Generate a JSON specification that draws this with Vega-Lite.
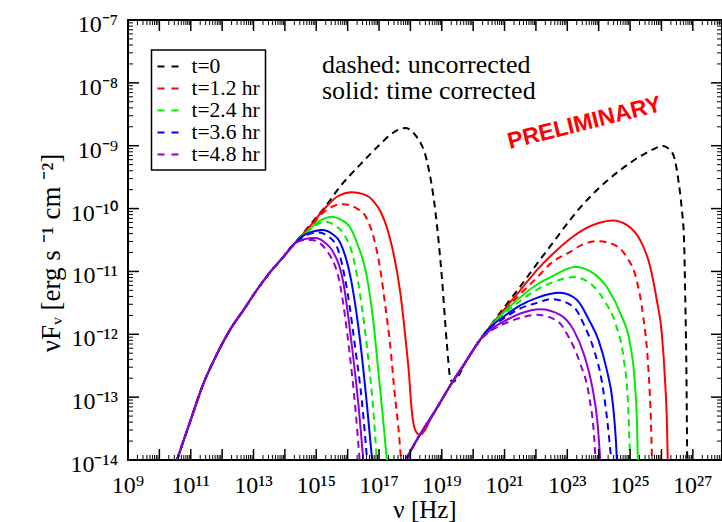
{
  "$schema": "https://vega.github.io/schema/vega-lite/v6.json",
  "width": 594,
  "height": 440,
  "autosize": {"type": "none"},
  "padding": {"left": 128, "top": 20, "right": 0, "bottom": 62},
  "background": "white",
  "config": {
    "view": {"stroke": "black", "strokeWidth": 2},
    "font": "Liberation Serif",
    "legend": {"strokeWidth": 1.5}
  },
  "datasets": {
    "xt": [
      {"v":1e9,"k":"major"},{"v":1e10,"k":"major"},{"v":1e11,"k":"major"},{"v":1e12,"k":"major"},{"v":1e13,"k":"major"},{"v":1e14,"k":"major"},{"v":1e15,"k":"major"},{"v":1e16,"k":"major"},{"v":1e17,"k":"major"},{"v":1e18,"k":"major"},{"v":1e19,"k":"major"},{"v":1e20,"k":"major"},{"v":1e21,"k":"major"},{"v":1e22,"k":"major"},{"v":1e23,"k":"major"},{"v":1e24,"k":"major"},{"v":1e25,"k":"major"},{"v":1e26,"k":"major"},{"v":1e27,"k":"major"},
      {"v":2e9,"k":"minor"},{"v":3e9,"k":"minor"},{"v":4e9,"k":"minor"},{"v":5e9,"k":"minor"},{"v":6e9,"k":"minor"},{"v":7e9,"k":"minor"},{"v":8e9,"k":"minor"},{"v":9e9,"k":"minor"},
      {"v":2e10,"k":"minor"},{"v":3e10,"k":"minor"},{"v":4e10,"k":"minor"},{"v":5e10,"k":"minor"},{"v":6e10,"k":"minor"},{"v":7e10,"k":"minor"},{"v":8e10,"k":"minor"},{"v":9e10,"k":"minor"},
      {"v":2e11,"k":"minor"},{"v":3e11,"k":"minor"},{"v":4e11,"k":"minor"},{"v":5e11,"k":"minor"},{"v":6e11,"k":"minor"},{"v":7e11,"k":"minor"},{"v":8e11,"k":"minor"},{"v":9e11,"k":"minor"},
      {"v":2e12,"k":"minor"},{"v":3e12,"k":"minor"},{"v":4e12,"k":"minor"},{"v":5e12,"k":"minor"},{"v":6e12,"k":"minor"},{"v":7e12,"k":"minor"},{"v":8e12,"k":"minor"},{"v":9e12,"k":"minor"},
      {"v":2e13,"k":"minor"},{"v":3e13,"k":"minor"},{"v":4e13,"k":"minor"},{"v":5e13,"k":"minor"},{"v":6e13,"k":"minor"},{"v":7e13,"k":"minor"},{"v":8e13,"k":"minor"},{"v":9e13,"k":"minor"},
      {"v":2e14,"k":"minor"},{"v":3e14,"k":"minor"},{"v":4e14,"k":"minor"},{"v":5e14,"k":"minor"},{"v":6e14,"k":"minor"},{"v":7e14,"k":"minor"},{"v":8e14,"k":"minor"},{"v":9e14,"k":"minor"},
      {"v":2e15,"k":"minor"},{"v":3e15,"k":"minor"},{"v":4e15,"k":"minor"},{"v":5e15,"k":"minor"},{"v":6e15,"k":"minor"},{"v":7e15,"k":"minor"},{"v":8e15,"k":"minor"},{"v":9e15,"k":"minor"},
      {"v":2e16,"k":"minor"},{"v":3e16,"k":"minor"},{"v":4e16,"k":"minor"},{"v":5e16,"k":"minor"},{"v":6e16,"k":"minor"},{"v":7e16,"k":"minor"},{"v":8e16,"k":"minor"},{"v":9e16,"k":"minor"},
      {"v":2e17,"k":"minor"},{"v":3e17,"k":"minor"},{"v":4e17,"k":"minor"},{"v":5e17,"k":"minor"},{"v":6e17,"k":"minor"},{"v":7e17,"k":"minor"},{"v":8e17,"k":"minor"},{"v":9e17,"k":"minor"},
      {"v":2e18,"k":"minor"},{"v":3e18,"k":"minor"},{"v":4e18,"k":"minor"},{"v":5e18,"k":"minor"},{"v":6e18,"k":"minor"},{"v":7e18,"k":"minor"},{"v":8e18,"k":"minor"},{"v":9e18,"k":"minor"},
      {"v":2e19,"k":"minor"},{"v":3e19,"k":"minor"},{"v":4e19,"k":"minor"},{"v":5e19,"k":"minor"},{"v":6e19,"k":"minor"},{"v":7e19,"k":"minor"},{"v":8e19,"k":"minor"},{"v":9e19,"k":"minor"},
      {"v":2e20,"k":"minor"},{"v":3e20,"k":"minor"},{"v":4e20,"k":"minor"},{"v":5e20,"k":"minor"},{"v":6e20,"k":"minor"},{"v":7e20,"k":"minor"},{"v":8e20,"k":"minor"},{"v":9e20,"k":"minor"},
      {"v":2e21,"k":"minor"},{"v":3e21,"k":"minor"},{"v":4e21,"k":"minor"},{"v":5e21,"k":"minor"},{"v":6e21,"k":"minor"},{"v":7e21,"k":"minor"},{"v":8e21,"k":"minor"},{"v":9e21,"k":"minor"},
      {"v":2e22,"k":"minor"},{"v":3e22,"k":"minor"},{"v":4e22,"k":"minor"},{"v":5e22,"k":"minor"},{"v":6e22,"k":"minor"},{"v":7e22,"k":"minor"},{"v":8e22,"k":"minor"},{"v":9e22,"k":"minor"},
      {"v":2e23,"k":"minor"},{"v":3e23,"k":"minor"},{"v":4e23,"k":"minor"},{"v":5e23,"k":"minor"},{"v":6e23,"k":"minor"},{"v":7e23,"k":"minor"},{"v":8e23,"k":"minor"},{"v":9e23,"k":"minor"},
      {"v":2e24,"k":"minor"},{"v":3e24,"k":"minor"},{"v":4e24,"k":"minor"},{"v":5e24,"k":"minor"},{"v":6e24,"k":"minor"},{"v":7e24,"k":"minor"},{"v":8e24,"k":"minor"},{"v":9e24,"k":"minor"},
      {"v":2e25,"k":"minor"},{"v":3e25,"k":"minor"},{"v":4e25,"k":"minor"},{"v":5e25,"k":"minor"},{"v":6e25,"k":"minor"},{"v":7e25,"k":"minor"},{"v":8e25,"k":"minor"},{"v":9e25,"k":"minor"},
      {"v":2e26,"k":"minor"},{"v":3e26,"k":"minor"},{"v":4e26,"k":"minor"},{"v":5e26,"k":"minor"},{"v":6e26,"k":"minor"},{"v":7e26,"k":"minor"},{"v":8e26,"k":"minor"},{"v":9e26,"k":"minor"},
      {"v":2e27,"k":"minor"},{"v":3e27,"k":"minor"},{"v":4e27,"k":"minor"},{"v":5e27,"k":"minor"},{"v":6e27,"k":"minor"},{"v":7e27,"k":"minor"},{"v":8e27,"k":"minor"}
    ],
    "yt": [
      {"v":1e-14,"k":"major"},{"v":1e-13,"k":"major"},{"v":1e-12,"k":"major"},{"v":1e-11,"k":"major"},{"v":1e-10,"k":"major"},{"v":1e-9,"k":"major"},{"v":1e-8,"k":"major"},{"v":1e-7,"k":"major"},
      {"v":2e-14,"k":"minor"},{"v":3e-14,"k":"minor"},{"v":4e-14,"k":"minor"},{"v":5e-14,"k":"minor"},{"v":6e-14,"k":"minor"},{"v":7e-14,"k":"minor"},{"v":8e-14,"k":"minor"},{"v":9e-14,"k":"minor"},
      {"v":2e-13,"k":"minor"},{"v":3e-13,"k":"minor"},{"v":4e-13,"k":"minor"},{"v":5e-13,"k":"minor"},{"v":6e-13,"k":"minor"},{"v":7e-13,"k":"minor"},{"v":8e-13,"k":"minor"},{"v":9e-13,"k":"minor"},
      {"v":2e-12,"k":"minor"},{"v":3e-12,"k":"minor"},{"v":4e-12,"k":"minor"},{"v":5e-12,"k":"minor"},{"v":6e-12,"k":"minor"},{"v":7e-12,"k":"minor"},{"v":8e-12,"k":"minor"},{"v":9e-12,"k":"minor"},
      {"v":2e-11,"k":"minor"},{"v":3e-11,"k":"minor"},{"v":4e-11,"k":"minor"},{"v":5e-11,"k":"minor"},{"v":6e-11,"k":"minor"},{"v":7e-11,"k":"minor"},{"v":8e-11,"k":"minor"},{"v":9e-11,"k":"minor"},
      {"v":2e-10,"k":"minor"},{"v":3e-10,"k":"minor"},{"v":4e-10,"k":"minor"},{"v":5e-10,"k":"minor"},{"v":6e-10,"k":"minor"},{"v":7e-10,"k":"minor"},{"v":8e-10,"k":"minor"},{"v":9e-10,"k":"minor"},
      {"v":2e-9,"k":"minor"},{"v":3e-9,"k":"minor"},{"v":4e-9,"k":"minor"},{"v":5e-9,"k":"minor"},{"v":6e-9,"k":"minor"},{"v":7e-9,"k":"minor"},{"v":8e-9,"k":"minor"},{"v":9e-9,"k":"minor"},
      {"v":2e-8,"k":"minor"},{"v":3e-8,"k":"minor"},{"v":4e-8,"k":"minor"},{"v":5e-8,"k":"minor"},{"v":6e-8,"k":"minor"},{"v":7e-8,"k":"minor"},{"v":8e-8,"k":"minor"},{"v":9e-8,"k":"minor"}
    ],
    "xl": [
      {"v":1e9,"lab":"10⁹"},{"v":1e11,"lab":"10¹¹"},{"v":1e13,"lab":"10¹³"},{"v":1e15,"lab":"10¹⁵"},{"v":1e17,"lab":"10¹⁷"},{"v":1e19,"lab":"10¹⁹"},{"v":1e21,"lab":"10²¹"},{"v":1e23,"lab":"10²³"},{"v":1e25,"lab":"10²⁵"},{"v":1e27,"lab":"10²⁷"}
    ],
    "yl": [
      {"v":1e-14,"lab":"10⁻¹⁴"},{"v":1e-13,"lab":"10⁻¹³"},{"v":1e-12,"lab":"10⁻¹²"},{"v":1e-11,"lab":"10⁻¹¹"},{"v":1e-10,"lab":"10⁻¹⁰"},{"v":1e-9,"lab":"10⁻⁹"},{"v":1e-8,"lab":"10⁻⁸"},{"v":1e-7,"lab":"10⁻⁷"}
    ],
    "xtitle": [{"nu": 2.917e18, "F": 1e-14, "lab": "ν [Hz]"}],
    "ytitle": [{"nu": 1e9, "F": 1.963e-11, "lab": "νFᵥ  [erg s  ⁻¹  cm  ⁻²]"}],
    "curves": [
      {"t":"t=0","s":"dashed","p":1,"nu":3.631e10,"F":1e-14},
      {"t":"t=0","s":"dashed","p":1,"nu":6.31e10,"F":2.239e-14},
      {"t":"t=0","s":"dashed","p":1,"nu":1e11,"F":4.365e-14},
      {"t":"t=0","s":"dashed","p":1,"nu":2.512e11,"F":1.622e-13},
      {"t":"t=0","s":"dashed","p":1,"nu":6.31e11,"F":4.467e-13},
      {"t":"t=0","s":"dashed","p":1,"nu":1.778e12,"F":1.175e-12},
      {"t":"t=0","s":"dashed","p":1,"nu":5.012e12,"F":2.512e-12},
      {"t":"t=0","s":"dashed","p":1,"nu":1.259e13,"F":5.012e-12},
      {"t":"t=0","s":"dashed","p":1,"nu":3.162e13,"F":9.333e-12},
      {"t":"t=0","s":"dashed","p":1,"nu":8.913e13,"F":1.698e-11},
      {"t":"t=0","s":"dashed","p":1,"nu":1.995e14,"F":2.754e-11},
      {"t":"t=0","s":"dashed","p":1,"nu":6.31e14,"F":5.495e-11},
      {"t":"t=0","s":"dashed","p":1,"nu":1.995e15,"F":1.096e-10},
      {"t":"t=0","s":"dashed","p":1,"nu":5.754e15,"F":2.239e-10},
      {"t":"t=0","s":"dashed","p":1,"nu":2.512e16,"F":5.012e-10},
      {"t":"t=0","s":"dashed","p":1,"nu":1.072e17,"F":1.047e-9},
      {"t":"t=0","s":"dashed","p":1,"nu":2.884e17,"F":1.622e-9},
      {"t":"t=0","s":"dashed","p":1,"nu":6.761e17,"F":1.905e-9},
      {"t":"t=0","s":"dashed","p":1,"nu":1.585e18,"F":1.38e-9},
      {"t":"t=0","s":"dashed","p":1,"nu":3.311e18,"F":5.888e-10},
      {"t":"t=0","s":"dashed","p":1,"nu":6.166e18,"F":9.55e-11},
      {"t":"t=0","s":"dashed","p":1,"nu":1e19,"F":8.318e-12},
      {"t":"t=0","s":"dashed","p":1,"nu":1.445e19,"F":7.244e-13},
      {"t":"t=0","s":"dashed","p":1,"nu":1.862e19,"F":1.995e-13},
      {"t":"t=0","s":"dashed","p":1,"nu":2.188e19,"F":1.738e-13},
      {"t":"t=0","s":"dashed","p":1,"nu":6.31e19,"F":3.89e-13},
      {"t":"t=0","s":"dashed","p":1,"nu":1e20,"F":5.623e-13},
      {"t":"t=0","s":"dashed","p":1,"nu":3.162e20,"F":1.259e-12},
      {"t":"t=0","s":"dashed","p":1,"nu":9.12e20,"F":2.57e-12},
      {"t":"t=0","s":"dashed","p":1,"nu":3.162e21,"F":5.754e-12},
      {"t":"t=0","s":"dashed","p":1,"nu":1.072e22,"F":1.318e-11},
      {"t":"t=0","s":"dashed","p":1,"nu":3.162e22,"F":2.692e-11},
      {"t":"t=0","s":"dashed","p":1,"nu":1.23e23,"F":6.607e-11},
      {"t":"t=0","s":"dashed","p":1,"nu":2.512e23,"F":1.023e-10},
      {"t":"t=0","s":"dashed","p":1,"nu":1.096e24,"F":2.188e-10},
      {"t":"t=0","s":"dashed","p":1,"nu":4.786e24,"F":4.074e-10},
      {"t":"t=0","s":"dashed","p":1,"nu":2.089e25,"F":6.761e-10},
      {"t":"t=0","s":"dashed","p":1,"nu":7.079e25,"F":9.333e-10},
      {"t":"t=0","s":"dashed","p":1,"nu":1e26,"F":1e-9},
      {"t":"t=0","s":"dashed","p":1,"nu":1.905e26,"F":8.511e-10},
      {"t":"t=0","s":"dashed","p":1,"nu":2.692e26,"F":5.888e-10},
      {"t":"t=0","s":"dashed","p":1,"nu":3.467e26,"F":2.818e-10},
      {"t":"t=0","s":"dashed","p":1,"nu":4.365e26,"F":1.072e-10},
      {"t":"t=0","s":"dashed","p":1,"nu":5.248e26,"F":3.162e-11},
      {"t":"t=0","s":"dashed","p":1,"nu":5.754e26,"F":3.548e-12},
      {"t":"t=0","s":"dashed","p":1,"nu":6.31e26,"F":1.66e-13},
      {"t":"t=0","s":"dashed","p":1,"nu":6.607e26,"F":1e-14},

      {"t":"t=1.2 hr","s":"dashed","p":1,"nu":3.631e10,"F":1e-14},
      {"t":"t=1.2 hr","s":"dashed","p":1,"nu":6.31e10,"F":2.239e-14},
      {"t":"t=1.2 hr","s":"dashed","p":1,"nu":1e11,"F":4.365e-14},
      {"t":"t=1.2 hr","s":"dashed","p":1,"nu":2.512e11,"F":1.622e-13},
      {"t":"t=1.2 hr","s":"dashed","p":1,"nu":6.31e11,"F":4.467e-13},
      {"t":"t=1.2 hr","s":"dashed","p":1,"nu":1.778e12,"F":1.175e-12},
      {"t":"t=1.2 hr","s":"dashed","p":1,"nu":5.012e12,"F":2.512e-12},
      {"t":"t=1.2 hr","s":"dashed","p":1,"nu":1.259e13,"F":5.012e-12},
      {"t":"t=1.2 hr","s":"dashed","p":1,"nu":3.162e13,"F":9.333e-12},
      {"t":"t=1.2 hr","s":"dashed","p":1,"nu":8.913e13,"F":1.698e-11},
      {"t":"t=1.2 hr","s":"dashed","p":1,"nu":1.995e14,"F":2.754e-11},
      {"t":"t=1.2 hr","s":"dashed","p":1,"nu":6.31e14,"F":5.012e-11},
      {"t":"t=1.2 hr","s":"dashed","p":1,"nu":1.995e15,"F":9.333e-11},
      {"t":"t=1.2 hr","s":"dashed","p":1,"nu":3.981e15,"F":1.122e-10},
      {"t":"t=1.2 hr","s":"dashed","p":1,"nu":7.079e15,"F":1.175e-10},
      {"t":"t=1.2 hr","s":"dashed","p":1,"nu":1.995e16,"F":1e-10},
      {"t":"t=1.2 hr","s":"dashed","p":1,"nu":3.981e16,"F":7.079e-11},
      {"t":"t=1.2 hr","s":"dashed","p":1,"nu":7.079e16,"F":3.162e-11},
      {"t":"t=1.2 hr","s":"dashed","p":1,"nu":1.122e17,"F":1e-11},
      {"t":"t=1.2 hr","s":"dashed","p":1,"nu":1.585e17,"F":2.818e-12},
      {"t":"t=1.2 hr","s":"dashed","p":1,"nu":2.239e17,"F":7.079e-13},
      {"t":"t=1.2 hr","s":"dashed","p":1,"nu":3.162e17,"F":1.122e-13},
      {"t":"t=1.2 hr","s":"dashed","p":1,"nu":4.169e17,"F":3.162e-14},
      {"t":"t=1.2 hr","s":"dashed","p":1,"nu":5.012e17,"F":1e-14},
      {"t":"t=1.2 hr","s":"dashed","p":2,"nu":7.079e17,"F":1e-14},
      {"t":"t=1.2 hr","s":"dashed","p":2,"nu":1.995e18,"F":2.512e-14},
      {"t":"t=1.2 hr","s":"dashed","p":2,"nu":5.623e18,"F":5.623e-14},
      {"t":"t=1.2 hr","s":"dashed","p":2,"nu":2.188e19,"F":1.738e-13},
      {"t":"t=1.2 hr","s":"dashed","p":2,"nu":6.31e19,"F":3.89e-13},
      {"t":"t=1.2 hr","s":"dashed","p":2,"nu":1e20,"F":5.623e-13},
      {"t":"t=1.2 hr","s":"dashed","p":2,"nu":3.162e20,"F":1.259e-12},
      {"t":"t=1.2 hr","s":"dashed","p":2,"nu":1e21,"F":2.399e-12},
      {"t":"t=1.2 hr","s":"dashed","p":2,"nu":3.162e21,"F":4.365e-12},
      {"t":"t=1.2 hr","s":"dashed","p":2,"nu":1.072e22,"F":7.943e-12},
      {"t":"t=1.2 hr","s":"dashed","p":2,"nu":3.162e22,"F":1.38e-11},
      {"t":"t=1.2 hr","s":"dashed","p":2,"nu":1.23e23,"F":2.042e-11},
      {"t":"t=1.2 hr","s":"dashed","p":2,"nu":3.162e23,"F":2.692e-11},
      {"t":"t=1.2 hr","s":"dashed","p":2,"nu":8.511e23,"F":3.02e-11},
      {"t":"t=1.2 hr","s":"dashed","p":2,"nu":2.291e24,"F":2.818e-11},
      {"t":"t=1.2 hr","s":"dashed","p":2,"nu":7.762e24,"F":1.698e-11},
      {"t":"t=1.2 hr","s":"dashed","p":2,"nu":1.622e25,"F":7.244e-12},
      {"t":"t=1.2 hr","s":"dashed","p":2,"nu":2.63e25,"F":1.905e-12},
      {"t":"t=1.2 hr","s":"dashed","p":2,"nu":3.802e25,"F":3.02e-13},
      {"t":"t=1.2 hr","s":"dashed","p":2,"nu":4.571e25,"F":4.898e-14},
      {"t":"t=1.2 hr","s":"dashed","p":2,"nu":5.012e25,"F":1e-14},

      {"t":"t=2.4 hr","s":"dashed","p":1,"nu":3.631e10,"F":1e-14},
      {"t":"t=2.4 hr","s":"dashed","p":1,"nu":6.31e10,"F":2.239e-14},
      {"t":"t=2.4 hr","s":"dashed","p":1,"nu":1e11,"F":4.365e-14},
      {"t":"t=2.4 hr","s":"dashed","p":1,"nu":2.512e11,"F":1.622e-13},
      {"t":"t=2.4 hr","s":"dashed","p":1,"nu":6.31e11,"F":4.467e-13},
      {"t":"t=2.4 hr","s":"dashed","p":1,"nu":1.778e12,"F":1.175e-12},
      {"t":"t=2.4 hr","s":"dashed","p":1,"nu":5.012e12,"F":2.512e-12},
      {"t":"t=2.4 hr","s":"dashed","p":1,"nu":1.259e13,"F":5.012e-12},
      {"t":"t=2.4 hr","s":"dashed","p":1,"nu":3.162e13,"F":9.333e-12},
      {"t":"t=2.4 hr","s":"dashed","p":1,"nu":8.913e13,"F":1.698e-11},
      {"t":"t=2.4 hr","s":"dashed","p":1,"nu":1.995e14,"F":2.754e-11},
      {"t":"t=2.4 hr","s":"dashed","p":1,"nu":5.012e14,"F":4.169e-11},
      {"t":"t=2.4 hr","s":"dashed","p":1,"nu":1e15,"F":5.495e-11},
      {"t":"t=2.4 hr","s":"dashed","p":1,"nu":1.995e15,"F":6.166e-11},
      {"t":"t=2.4 hr","s":"dashed","p":1,"nu":3.981e15,"F":5.37e-11},
      {"t":"t=2.4 hr","s":"dashed","p":1,"nu":7.413e15,"F":3.981e-11},
      {"t":"t=2.4 hr","s":"dashed","p":1,"nu":1.549e16,"F":1.585e-11},
      {"t":"t=2.4 hr","s":"dashed","p":1,"nu":2.818e16,"F":2.818e-12},
      {"t":"t=2.4 hr","s":"dashed","p":1,"nu":4.571e16,"F":3.981e-13},
      {"t":"t=2.4 hr","s":"dashed","p":1,"nu":6.31e16,"F":7.943e-14},
      {"t":"t=2.4 hr","s":"dashed","p":1,"nu":8.511e16,"F":1e-14},
      {"t":"t=2.4 hr","s":"dashed","p":2,"nu":7.079e17,"F":1e-14},
      {"t":"t=2.4 hr","s":"dashed","p":2,"nu":1.995e18,"F":2.512e-14},
      {"t":"t=2.4 hr","s":"dashed","p":2,"nu":5.623e18,"F":5.623e-14},
      {"t":"t=2.4 hr","s":"dashed","p":2,"nu":2.188e19,"F":1.738e-13},
      {"t":"t=2.4 hr","s":"dashed","p":2,"nu":6.31e19,"F":3.89e-13},
      {"t":"t=2.4 hr","s":"dashed","p":2,"nu":1e20,"F":5.623e-13},
      {"t":"t=2.4 hr","s":"dashed","p":2,"nu":3.162e20,"F":1.259e-12},
      {"t":"t=2.4 hr","s":"dashed","p":2,"nu":1e21,"F":2.138e-12},
      {"t":"t=2.4 hr","s":"dashed","p":2,"nu":3.162e21,"F":3.388e-12},
      {"t":"t=2.4 hr","s":"dashed","p":2,"nu":1e22,"F":5.012e-12},
      {"t":"t=2.4 hr","s":"dashed","p":2,"nu":3.548e22,"F":6.761e-12},
      {"t":"t=2.4 hr","s":"dashed","p":2,"nu":1.549e23,"F":8.128e-12},
      {"t":"t=2.4 hr","s":"dashed","p":2,"nu":6.31e23,"F":6.026e-12},
      {"t":"t=2.4 hr","s":"dashed","p":2,"nu":1.585e24,"F":3.311e-12},
      {"t":"t=2.4 hr","s":"dashed","p":2,"nu":3.548e24,"F":1.413e-12},
      {"t":"t=2.4 hr","s":"dashed","p":2,"nu":6.31e24,"F":3.981e-13},
      {"t":"t=2.4 hr","s":"dashed","p":2,"nu":8.511e24,"F":8.913e-14},
      {"t":"t=2.4 hr","s":"dashed","p":2,"nu":1e25,"F":1e-14},

      {"t":"t=3.6 hr","s":"dashed","p":1,"nu":3.631e10,"F":1e-14},
      {"t":"t=3.6 hr","s":"dashed","p":1,"nu":6.31e10,"F":2.239e-14},
      {"t":"t=3.6 hr","s":"dashed","p":1,"nu":1e11,"F":4.365e-14},
      {"t":"t=3.6 hr","s":"dashed","p":1,"nu":2.512e11,"F":1.622e-13},
      {"t":"t=3.6 hr","s":"dashed","p":1,"nu":6.31e11,"F":4.467e-13},
      {"t":"t=3.6 hr","s":"dashed","p":1,"nu":1.778e12,"F":1.175e-12},
      {"t":"t=3.6 hr","s":"dashed","p":1,"nu":5.012e12,"F":2.512e-12},
      {"t":"t=3.6 hr","s":"dashed","p":1,"nu":1.259e13,"F":5.012e-12},
      {"t":"t=3.6 hr","s":"dashed","p":1,"nu":3.162e13,"F":9.333e-12},
      {"t":"t=3.6 hr","s":"dashed","p":1,"nu":8.913e13,"F":1.698e-11},
      {"t":"t=3.6 hr","s":"dashed","p":1,"nu":1.995e14,"F":2.754e-11},
      {"t":"t=3.6 hr","s":"dashed","p":1,"nu":5.012e14,"F":3.802e-11},
      {"t":"t=3.6 hr","s":"dashed","p":1,"nu":1.175e15,"F":4.169e-11},
      {"t":"t=3.6 hr","s":"dashed","p":1,"nu":2.512e15,"F":3.548e-11},
      {"t":"t=3.6 hr","s":"dashed","p":1,"nu":4.571e15,"F":2.455e-11},
      {"t":"t=3.6 hr","s":"dashed","p":1,"nu":1e16,"F":4.467e-12},
      {"t":"t=3.6 hr","s":"dashed","p":1,"nu":1.778e16,"F":5.623e-13},
      {"t":"t=3.6 hr","s":"dashed","p":1,"nu":2.818e16,"F":8.913e-14},
      {"t":"t=3.6 hr","s":"dashed","p":1,"nu":4.169e16,"F":1e-14},
      {"t":"t=3.6 hr","s":"dashed","p":2,"nu":7.079e17,"F":1e-14},
      {"t":"t=3.6 hr","s":"dashed","p":2,"nu":1.995e18,"F":2.512e-14},
      {"t":"t=3.6 hr","s":"dashed","p":2,"nu":5.623e18,"F":5.623e-14},
      {"t":"t=3.6 hr","s":"dashed","p":2,"nu":2.188e19,"F":1.738e-13},
      {"t":"t=3.6 hr","s":"dashed","p":2,"nu":6.31e19,"F":3.89e-13},
      {"t":"t=3.6 hr","s":"dashed","p":2,"nu":1e20,"F":5.623e-13},
      {"t":"t=3.6 hr","s":"dashed","p":2,"nu":3.162e20,"F":1.202e-12},
      {"t":"t=3.6 hr","s":"dashed","p":2,"nu":1e21,"F":1.82e-12},
      {"t":"t=3.6 hr","s":"dashed","p":2,"nu":3.162e21,"F":2.57e-12},
      {"t":"t=3.6 hr","s":"dashed","p":2,"nu":1.072e22,"F":3.162e-12},
      {"t":"t=3.6 hr","s":"dashed","p":2,"nu":3.162e22,"F":3.631e-12},
      {"t":"t=3.6 hr","s":"dashed","p":2,"nu":1.549e23,"F":2.754e-12},
      {"t":"t=3.6 hr","s":"dashed","p":2,"nu":3.631e23,"F":1.318e-12},
      {"t":"t=3.6 hr","s":"dashed","p":2,"nu":7.079e23,"F":5.623e-13},
      {"t":"t=3.6 hr","s":"dashed","p":2,"nu":1.259e24,"F":1.778e-13},
      {"t":"t=3.6 hr","s":"dashed","p":2,"nu":1.905e24,"F":3.981e-14},
      {"t":"t=3.6 hr","s":"dashed","p":2,"nu":2.512e24,"F":1e-14},

      {"t":"t=4.8 hr","s":"dashed","p":1,"nu":3.631e10,"F":1e-14},
      {"t":"t=4.8 hr","s":"dashed","p":1,"nu":6.31e10,"F":2.239e-14},
      {"t":"t=4.8 hr","s":"dashed","p":1,"nu":1e11,"F":4.365e-14},
      {"t":"t=4.8 hr","s":"dashed","p":1,"nu":2.512e11,"F":1.622e-13},
      {"t":"t=4.8 hr","s":"dashed","p":1,"nu":6.31e11,"F":4.467e-13},
      {"t":"t=4.8 hr","s":"dashed","p":1,"nu":1.778e12,"F":1.175e-12},
      {"t":"t=4.8 hr","s":"dashed","p":1,"nu":5.012e12,"F":2.512e-12},
      {"t":"t=4.8 hr","s":"dashed","p":1,"nu":1.259e13,"F":5.012e-12},
      {"t":"t=4.8 hr","s":"dashed","p":1,"nu":3.162e13,"F":9.333e-12},
      {"t":"t=4.8 hr","s":"dashed","p":1,"nu":8.913e13,"F":1.698e-11},
      {"t":"t=4.8 hr","s":"dashed","p":1,"nu":1.995e14,"F":2.754e-11},
      {"t":"t=4.8 hr","s":"dashed","p":1,"nu":3.981e14,"F":3.162e-11},
      {"t":"t=4.8 hr","s":"dashed","p":1,"nu":7.079e14,"F":3.162e-11},
      {"t":"t=4.8 hr","s":"dashed","p":1,"nu":2.455e15,"F":1.95e-11},
      {"t":"t=4.8 hr","s":"dashed","p":1,"nu":6.026e15,"F":5.37e-12},
      {"t":"t=4.8 hr","s":"dashed","p":1,"nu":1.122e16,"F":5.623e-13},
      {"t":"t=4.8 hr","s":"dashed","p":1,"nu":1.778e16,"F":6.31e-14},
      {"t":"t=4.8 hr","s":"dashed","p":1,"nu":2.399e16,"F":1e-14},
      {"t":"t=4.8 hr","s":"dashed","p":2,"nu":7.079e17,"F":1e-14},
      {"t":"t=4.8 hr","s":"dashed","p":2,"nu":1.995e18,"F":2.512e-14},
      {"t":"t=4.8 hr","s":"dashed","p":2,"nu":5.623e18,"F":5.623e-14},
      {"t":"t=4.8 hr","s":"dashed","p":2,"nu":2.188e19,"F":1.738e-13},
      {"t":"t=4.8 hr","s":"dashed","p":2,"nu":6.31e19,"F":3.89e-13},
      {"t":"t=4.8 hr","s":"dashed","p":2,"nu":1e20,"F":5.623e-13},
      {"t":"t=4.8 hr","s":"dashed","p":2,"nu":1.778e20,"F":8.318e-13},
      {"t":"t=4.8 hr","s":"dashed","p":2,"nu":3.162e20,"F":1.072e-12},
      {"t":"t=4.8 hr","s":"dashed","p":2,"nu":5.623e20,"F":1.288e-12},
      {"t":"t=4.8 hr","s":"dashed","p":2,"nu":1e21,"F":1.479e-12},
      {"t":"t=4.8 hr","s":"dashed","p":2,"nu":3.162e21,"F":1.82e-12},
      {"t":"t=4.8 hr","s":"dashed","p":2,"nu":1.072e22,"F":2.042e-12},
      {"t":"t=4.8 hr","s":"dashed","p":2,"nu":4.571e22,"F":1.66e-12},
      {"t":"t=4.8 hr","s":"dashed","p":2,"nu":1.122e23,"F":8.913e-13},
      {"t":"t=4.8 hr","s":"dashed","p":2,"nu":2.512e23,"F":3.548e-13},
      {"t":"t=4.8 hr","s":"dashed","p":2,"nu":5.012e23,"F":1e-13},
      {"t":"t=4.8 hr","s":"dashed","p":2,"nu":7.079e23,"F":2.512e-14},
      {"t":"t=4.8 hr","s":"dashed","p":2,"nu":7.943e23,"F":1e-14},

      {"t":"t=1.2 hr","s":"solid","p":1,"nu":3.631e10,"F":1e-14},
      {"t":"t=1.2 hr","s":"solid","p":1,"nu":6.31e10,"F":2.239e-14},
      {"t":"t=1.2 hr","s":"solid","p":1,"nu":1e11,"F":4.365e-14},
      {"t":"t=1.2 hr","s":"solid","p":1,"nu":2.512e11,"F":1.622e-13},
      {"t":"t=1.2 hr","s":"solid","p":1,"nu":6.31e11,"F":4.467e-13},
      {"t":"t=1.2 hr","s":"solid","p":1,"nu":1.778e12,"F":1.175e-12},
      {"t":"t=1.2 hr","s":"solid","p":1,"nu":5.012e12,"F":2.512e-12},
      {"t":"t=1.2 hr","s":"solid","p":1,"nu":1.259e13,"F":5.012e-12},
      {"t":"t=1.2 hr","s":"solid","p":1,"nu":3.162e13,"F":9.333e-12},
      {"t":"t=1.2 hr","s":"solid","p":1,"nu":8.913e13,"F":1.698e-11},
      {"t":"t=1.2 hr","s":"solid","p":1,"nu":1.995e14,"F":2.754e-11},
      {"t":"t=1.2 hr","s":"solid","p":1,"nu":6.31e14,"F":5.248e-11},
      {"t":"t=1.2 hr","s":"solid","p":1,"nu":1.995e15,"F":1.047e-10},
      {"t":"t=1.2 hr","s":"solid","p":1,"nu":5.012e15,"F":1.585e-10},
      {"t":"t=1.2 hr","s":"solid","p":1,"nu":1.349e16,"F":1.82e-10},
      {"t":"t=1.2 hr","s":"solid","p":1,"nu":3.162e16,"F":1.698e-10},
      {"t":"t=1.2 hr","s":"solid","p":1,"nu":6.607e16,"F":1.318e-10},
      {"t":"t=1.2 hr","s":"solid","p":1,"nu":1.122e17,"F":8.913e-11},
      {"t":"t=1.2 hr","s":"solid","p":1,"nu":1.778e17,"F":5.012e-11},
      {"t":"t=1.2 hr","s":"solid","p":1,"nu":2.63e17,"F":2.399e-11},
      {"t":"t=1.2 hr","s":"solid","p":1,"nu":3.715e17,"F":1e-11},
      {"t":"t=1.2 hr","s":"solid","p":1,"nu":5.248e17,"F":3.162e-12},
      {"t":"t=1.2 hr","s":"solid","p":1,"nu":7.079e17,"F":7.943e-13},
      {"t":"t=1.2 hr","s":"solid","p":1,"nu":8.913e17,"F":2.512e-13},
      {"t":"t=1.2 hr","s":"solid","p":1,"nu":1.096e18,"F":6.31e-14},
      {"t":"t=1.2 hr","s":"solid","p":1,"nu":1.413e18,"F":3.02e-14},
      {"t":"t=1.2 hr","s":"solid","p":1,"nu":1.995e18,"F":2.512e-14},
      {"t":"t=1.2 hr","s":"solid","p":1,"nu":5.623e18,"F":5.623e-14},
      {"t":"t=1.2 hr","s":"solid","p":1,"nu":2.188e19,"F":1.738e-13},
      {"t":"t=1.2 hr","s":"solid","p":1,"nu":6.31e19,"F":3.89e-13},
      {"t":"t=1.2 hr","s":"solid","p":1,"nu":1e20,"F":5.623e-13},
      {"t":"t=1.2 hr","s":"solid","p":1,"nu":3.162e20,"F":1.259e-12},
      {"t":"t=1.2 hr","s":"solid","p":1,"nu":1e21,"F":2.512e-12},
      {"t":"t=1.2 hr","s":"solid","p":1,"nu":3.162e21,"F":5.012e-12},
      {"t":"t=1.2 hr","s":"solid","p":1,"nu":1.072e22,"F":1.047e-11},
      {"t":"t=1.2 hr","s":"solid","p":1,"nu":3.162e22,"F":1.82e-11},
      {"t":"t=1.2 hr","s":"solid","p":1,"nu":1.23e23,"F":3.311e-11},
      {"t":"t=1.2 hr","s":"solid","p":1,"nu":3.981e23,"F":4.898e-11},
      {"t":"t=1.2 hr","s":"solid","p":1,"nu":1e24,"F":5.888e-11},
      {"t":"t=1.2 hr","s":"solid","p":1,"nu":2.884e24,"F":6.457e-11},
      {"t":"t=1.2 hr","s":"solid","p":1,"nu":7.762e24,"F":5.495e-11},
      {"t":"t=1.2 hr","s":"solid","p":1,"nu":2.089e25,"F":3.162e-11},
      {"t":"t=1.2 hr","s":"solid","p":1,"nu":4.365e25,"F":1.202e-11},
      {"t":"t=1.2 hr","s":"solid","p":1,"nu":7.079e25,"F":3.548e-12},
      {"t":"t=1.2 hr","s":"solid","p":1,"nu":1.023e26,"F":1.047e-12},
      {"t":"t=1.2 hr","s":"solid","p":1,"nu":1.318e26,"F":1.66e-13},
      {"t":"t=1.2 hr","s":"solid","p":1,"nu":1.514e26,"F":3.162e-14},
      {"t":"t=1.2 hr","s":"solid","p":1,"nu":1.585e26,"F":1e-14},

      {"t":"t=2.4 hr","s":"solid","p":1,"nu":3.631e10,"F":1e-14},
      {"t":"t=2.4 hr","s":"solid","p":1,"nu":6.31e10,"F":2.239e-14},
      {"t":"t=2.4 hr","s":"solid","p":1,"nu":1e11,"F":4.365e-14},
      {"t":"t=2.4 hr","s":"solid","p":1,"nu":2.512e11,"F":1.622e-13},
      {"t":"t=2.4 hr","s":"solid","p":1,"nu":6.31e11,"F":4.467e-13},
      {"t":"t=2.4 hr","s":"solid","p":1,"nu":1.778e12,"F":1.175e-12},
      {"t":"t=2.4 hr","s":"solid","p":1,"nu":5.012e12,"F":2.512e-12},
      {"t":"t=2.4 hr","s":"solid","p":1,"nu":1.259e13,"F":5.012e-12},
      {"t":"t=2.4 hr","s":"solid","p":1,"nu":3.162e13,"F":9.333e-12},
      {"t":"t=2.4 hr","s":"solid","p":1,"nu":8.913e13,"F":1.698e-11},
      {"t":"t=2.4 hr","s":"solid","p":1,"nu":1.995e14,"F":2.754e-11},
      {"t":"t=2.4 hr","s":"solid","p":1,"nu":5.012e14,"F":4.266e-11},
      {"t":"t=2.4 hr","s":"solid","p":1,"nu":1.259e15,"F":6.31e-11},
      {"t":"t=2.4 hr","s":"solid","p":1,"nu":3.162e15,"F":7.413e-11},
      {"t":"t=2.4 hr","s":"solid","p":1,"nu":5.754e15,"F":6.761e-11},
      {"t":"t=2.4 hr","s":"solid","p":1,"nu":1.202e16,"F":5.012e-11},
      {"t":"t=2.4 hr","s":"solid","p":1,"nu":1.995e16,"F":2.818e-11},
      {"t":"t=2.4 hr","s":"solid","p":1,"nu":3.981e16,"F":8.913e-12},
      {"t":"t=2.4 hr","s":"solid","p":1,"nu":6.607e16,"F":1.585e-12},
      {"t":"t=2.4 hr","s":"solid","p":1,"nu":1e17,"F":1.995e-13},
      {"t":"t=2.4 hr","s":"solid","p":1,"nu":1.318e17,"F":5.012e-14},
      {"t":"t=2.4 hr","s":"solid","p":1,"nu":1.778e17,"F":1e-14},
      {"t":"t=2.4 hr","s":"solid","p":2,"nu":7.079e17,"F":1e-14},
      {"t":"t=2.4 hr","s":"solid","p":2,"nu":1.995e18,"F":2.512e-14},
      {"t":"t=2.4 hr","s":"solid","p":2,"nu":5.623e18,"F":5.623e-14},
      {"t":"t=2.4 hr","s":"solid","p":2,"nu":2.188e19,"F":1.738e-13},
      {"t":"t=2.4 hr","s":"solid","p":2,"nu":6.31e19,"F":3.89e-13},
      {"t":"t=2.4 hr","s":"solid","p":2,"nu":1e20,"F":5.623e-13},
      {"t":"t=2.4 hr","s":"solid","p":2,"nu":3.162e20,"F":1.259e-12},
      {"t":"t=2.4 hr","s":"solid","p":2,"nu":1e21,"F":2.291e-12},
      {"t":"t=2.4 hr","s":"solid","p":2,"nu":3.162e21,"F":3.89e-12},
      {"t":"t=2.4 hr","s":"solid","p":2,"nu":1e22,"F":6.026e-12},
      {"t":"t=2.4 hr","s":"solid","p":2,"nu":3.548e22,"F":8.511e-12},
      {"t":"t=2.4 hr","s":"solid","p":2,"nu":1.778e23,"F":1.175e-11},
      {"t":"t=2.4 hr","s":"solid","p":2,"nu":6.31e23,"F":9.55e-12},
      {"t":"t=2.4 hr","s":"solid","p":2,"nu":1.995e24,"F":5.248e-12},
      {"t":"t=2.4 hr","s":"solid","p":2,"nu":5.012e24,"F":2.089e-12},
      {"t":"t=2.4 hr","s":"solid","p":2,"nu":1e25,"F":7.079e-13},
      {"t":"t=2.4 hr","s":"solid","p":2,"nu":1.413e25,"F":1.778e-13},
      {"t":"t=2.4 hr","s":"solid","p":2,"nu":1.66e25,"F":3.981e-14},
      {"t":"t=2.4 hr","s":"solid","p":2,"nu":1.778e25,"F":1e-14},

      {"t":"t=3.6 hr","s":"solid","p":1,"nu":3.631e10,"F":1e-14},
      {"t":"t=3.6 hr","s":"solid","p":1,"nu":6.31e10,"F":2.239e-14},
      {"t":"t=3.6 hr","s":"solid","p":1,"nu":1e11,"F":4.365e-14},
      {"t":"t=3.6 hr","s":"solid","p":1,"nu":2.512e11,"F":1.622e-13},
      {"t":"t=3.6 hr","s":"solid","p":1,"nu":6.31e11,"F":4.467e-13},
      {"t":"t=3.6 hr","s":"solid","p":1,"nu":1.778e12,"F":1.175e-12},
      {"t":"t=3.6 hr","s":"solid","p":1,"nu":5.012e12,"F":2.512e-12},
      {"t":"t=3.6 hr","s":"solid","p":1,"nu":1.259e13,"F":5.012e-12},
      {"t":"t=3.6 hr","s":"solid","p":1,"nu":3.162e13,"F":9.333e-12},
      {"t":"t=3.6 hr","s":"solid","p":1,"nu":8.913e13,"F":1.698e-11},
      {"t":"t=3.6 hr","s":"solid","p":1,"nu":1.995e14,"F":2.754e-11},
      {"t":"t=3.6 hr","s":"solid","p":1,"nu":5.012e14,"F":3.981e-11},
      {"t":"t=3.6 hr","s":"solid","p":1,"nu":1.585e15,"F":4.571e-11},
      {"t":"t=3.6 hr","s":"solid","p":1,"nu":3.162e15,"F":3.981e-11},
      {"t":"t=3.6 hr","s":"solid","p":1,"nu":5.754e15,"F":2.884e-11},
      {"t":"t=3.6 hr","s":"solid","p":1,"nu":1.349e16,"F":6.457e-12},
      {"t":"t=3.6 hr","s":"solid","p":1,"nu":2.63e16,"F":6.31e-13},
      {"t":"t=3.6 hr","s":"solid","p":1,"nu":4.169e16,"F":7.079e-14},
      {"t":"t=3.6 hr","s":"solid","p":1,"nu":6.026e16,"F":1e-14},
      {"t":"t=3.6 hr","s":"solid","p":2,"nu":7.079e17,"F":1e-14},
      {"t":"t=3.6 hr","s":"solid","p":2,"nu":1.995e18,"F":2.512e-14},
      {"t":"t=3.6 hr","s":"solid","p":2,"nu":5.623e18,"F":5.623e-14},
      {"t":"t=3.6 hr","s":"solid","p":2,"nu":2.188e19,"F":1.738e-13},
      {"t":"t=3.6 hr","s":"solid","p":2,"nu":6.31e19,"F":3.89e-13},
      {"t":"t=3.6 hr","s":"solid","p":2,"nu":1e20,"F":5.623e-13},
      {"t":"t=3.6 hr","s":"solid","p":2,"nu":3.162e20,"F":1.23e-12},
      {"t":"t=3.6 hr","s":"solid","p":2,"nu":1e21,"F":1.95e-12},
      {"t":"t=3.6 hr","s":"solid","p":2,"nu":3.162e21,"F":2.884e-12},
      {"t":"t=3.6 hr","s":"solid","p":2,"nu":1.072e22,"F":3.802e-12},
      {"t":"t=3.6 hr","s":"solid","p":2,"nu":5.888e22,"F":4.571e-12},
      {"t":"t=3.6 hr","s":"solid","p":2,"nu":1.995e23,"F":3.548e-12},
      {"t":"t=3.6 hr","s":"solid","p":2,"nu":5.012e23,"F":1.66e-12},
      {"t":"t=3.6 hr","s":"solid","p":2,"nu":1e24,"F":7.943e-13},
      {"t":"t=3.6 hr","s":"solid","p":2,"nu":1.778e24,"F":2.818e-13},
      {"t":"t=3.6 hr","s":"solid","p":2,"nu":2.818e24,"F":7.943e-14},
      {"t":"t=3.6 hr","s":"solid","p":2,"nu":3.548e24,"F":1.995e-14},
      {"t":"t=3.6 hr","s":"solid","p":2,"nu":3.802e24,"F":1e-14},

      {"t":"t=4.8 hr","s":"solid","p":1,"nu":3.631e10,"F":1e-14},
      {"t":"t=4.8 hr","s":"solid","p":1,"nu":6.31e10,"F":2.239e-14},
      {"t":"t=4.8 hr","s":"solid","p":1,"nu":1e11,"F":4.365e-14},
      {"t":"t=4.8 hr","s":"solid","p":1,"nu":2.512e11,"F":1.622e-13},
      {"t":"t=4.8 hr","s":"solid","p":1,"nu":6.31e11,"F":4.467e-13},
      {"t":"t=4.8 hr","s":"solid","p":1,"nu":1.778e12,"F":1.175e-12},
      {"t":"t=4.8 hr","s":"solid","p":1,"nu":5.012e12,"F":2.512e-12},
      {"t":"t=4.8 hr","s":"solid","p":1,"nu":1.259e13,"F":5.012e-12},
      {"t":"t=4.8 hr","s":"solid","p":1,"nu":3.162e13,"F":9.333e-12},
      {"t":"t=4.8 hr","s":"solid","p":1,"nu":8.913e13,"F":1.698e-11},
      {"t":"t=4.8 hr","s":"solid","p":1,"nu":1.995e14,"F":2.754e-11},
      {"t":"t=4.8 hr","s":"solid","p":1,"nu":3.981e14,"F":3.236e-11},
      {"t":"t=4.8 hr","s":"solid","p":1,"nu":8.913e14,"F":3.388e-11},
      {"t":"t=4.8 hr","s":"solid","p":1,"nu":1.995e15,"F":2.818e-11},
      {"t":"t=4.8 hr","s":"solid","p":1,"nu":3.162e15,"F":2.188e-11},
      {"t":"t=4.8 hr","s":"solid","p":1,"nu":7.413e15,"F":6.31e-12},
      {"t":"t=4.8 hr","s":"solid","p":1,"nu":1.413e16,"F":5.623e-13},
      {"t":"t=4.8 hr","s":"solid","p":1,"nu":2.239e16,"F":7.079e-14},
      {"t":"t=4.8 hr","s":"solid","p":1,"nu":3.162e16,"F":1e-14},
      {"t":"t=4.8 hr","s":"solid","p":2,"nu":7.079e17,"F":1e-14},
      {"t":"t=4.8 hr","s":"solid","p":2,"nu":1.995e18,"F":2.512e-14},
      {"t":"t=4.8 hr","s":"solid","p":2,"nu":5.623e18,"F":5.623e-14},
      {"t":"t=4.8 hr","s":"solid","p":2,"nu":2.188e19,"F":1.738e-13},
      {"t":"t=4.8 hr","s":"solid","p":2,"nu":6.31e19,"F":3.89e-13},
      {"t":"t=4.8 hr","s":"solid","p":2,"nu":1e20,"F":5.623e-13},
      {"t":"t=4.8 hr","s":"solid","p":2,"nu":1.778e20,"F":8.511e-13},
      {"t":"t=4.8 hr","s":"solid","p":2,"nu":3.162e20,"F":1.122e-12},
      {"t":"t=4.8 hr","s":"solid","p":2,"nu":5.623e20,"F":1.38e-12},
      {"t":"t=4.8 hr","s":"solid","p":2,"nu":1e21,"F":1.622e-12},
      {"t":"t=4.8 hr","s":"solid","p":2,"nu":3.162e21,"F":2.138e-12},
      {"t":"t=4.8 hr","s":"solid","p":2,"nu":1.349e22,"F":2.512e-12},
      {"t":"t=4.8 hr","s":"solid","p":2,"nu":5.888e22,"F":2.042e-12},
      {"t":"t=4.8 hr","s":"solid","p":2,"nu":1.585e23,"F":1.175e-12},
      {"t":"t=4.8 hr","s":"solid","p":2,"nu":3.548e23,"F":4.467e-13},
      {"t":"t=4.8 hr","s":"solid","p":2,"nu":6.31e23,"F":1.413e-13},
      {"t":"t=4.8 hr","s":"solid","p":2,"nu":9.333e23,"F":3.548e-14},
      {"t":"t=4.8 hr","s":"solid","p":2,"nu":1.122e24,"F":1e-14}
    ],
    "notes": [
      {"nu": 1.514e15, "F": 1.452e-8, "label": "dashed: uncorrected"},
      {"nu": 1.514e15, "F": 5.47e-9, "label": "solid: time corrected"}
    ],
    "stamp": [
      {"nu": 3.548e23, "F": 2.291e-9, "label": "PRELIMINARY"}
    ]
  },
  "layer": [
    {
      "data": {"name": "xl"},
      "mark": {"type": "text", "align": "center", "baseline": "alphabetic", "dy": 33, "font": "Liberation Serif", "fontSize": 24, "color": "black"},
      "encoding": {
        "x": {"field": "v", "type": "quantitative", "scale": {"type": "log", "domain": [1e9, 8.51e27], "nice": false}, "axis": null},
        "y": {"datum": 1e-14, "type": "quantitative", "scale": {"type": "log", "domain": [1e-14, 1e-7], "nice": false}, "axis": null},
        "text": {"field": "lab"}
      }
    },
    {
      "data": {"name": "yl"},
      "mark": {"type": "text", "align": "right", "baseline": "middle", "dx": -10, "dy": 5, "font": "Liberation Serif", "fontSize": 24, "color": "black"},
      "encoding": {
        "x": {"datum": 1e9, "type": "quantitative", "scale": {"type": "log", "domain": [1e9, 8.51e27], "nice": false}, "axis": null},
        "y": {"field": "v", "type": "quantitative", "scale": {"type": "log", "domain": [1e-14, 1e-7], "nice": false}, "axis": null},
        "text": {"field": "lab"}
      }
    },
    {
      "data": {"name": "xtitle"},
      "mark": {"type": "text", "align": "center", "baseline": "alphabetic", "dy": 58, "font": "Liberation Serif", "fontSize": 25, "color": "black"},
      "encoding": {
        "x": {"field": "nu", "type": "quantitative", "scale": {"type": "log", "domain": [1e9, 8.51e27], "nice": false}, "axis": null},
        "y": {"field": "F", "type": "quantitative", "scale": {"type": "log", "domain": [1e-14, 1e-7], "nice": false}, "axis": null},
        "text": {"field": "lab"}
      }
    },
    {
      "data": {"name": "ytitle"},
      "mark": {"type": "text", "align": "center", "baseline": "alphabetic", "angle": -90, "dy": -68, "font": "Liberation Serif", "fontSize": 27, "color": "black"},
      "encoding": {
        "x": {"field": "nu", "type": "quantitative", "scale": {"type": "log", "domain": [1e9, 8.51e27], "nice": false}, "axis": null},
        "y": {"field": "F", "type": "quantitative", "scale": {"type": "log", "domain": [1e-14, 1e-7], "nice": false}, "axis": null},
        "text": {"field": "lab"}
      }
    },
    {
      "data": {"name": "curves"},
      "transform": [{"filter": "datum.s === 'dashed'"}],
      "mark": {"type": "line", "strokeWidth": 2, "strokeDash": [7, 5], "interpolate": "monotone", "clip": true},
      "encoding": {
        "x": {"field": "nu", "type": "quantitative", "scale": {"type": "log", "domain": [1e9, 8.51e27], "nice": false}, "axis": null},
        "y": {"field": "F", "type": "quantitative", "scale": {"type": "log", "domain": [1e-14, 1e-7], "nice": false}, "axis": null},
        "color": {"field": "t", "type": "nominal",
          "scale": {"domain": ["t=0","t=1.2 hr","t=2.4 hr","t=3.6 hr","t=4.8 hr"], "range": ["#000000","#ff0000","#00ee00","#0000ff","#9400d3"]},
          "legend": {"title": null, "orient": "none", "legendX": 23.5, "legendY": 30, "strokeColor": "black", "padding": 5, "fillColor": "white",
            "labelFont": "Liberation Serif", "labelFontSize": 21.5, "labelColor": "black", "labelOffset": 12, "rowPadding": 0,
            "symbolType": "stroke", "symbolSize": 441, "symbolStrokeWidth": 2, "symbolDash": [7, 7]}},
        "detail": {"field": "p", "type": "nominal"}
      }
    },
    {
      "data": {"name": "curves"},
      "transform": [{"filter": "datum.s === 'solid'"}],
      "mark": {"type": "line", "strokeWidth": 2, "interpolate": "monotone", "clip": true},
      "encoding": {
        "x": {"field": "nu", "type": "quantitative", "scale": {"type": "log", "domain": [1e9, 8.51e27], "nice": false}, "axis": null},
        "y": {"field": "F", "type": "quantitative", "scale": {"type": "log", "domain": [1e-14, 1e-7], "nice": false}, "axis": null},
        "color": {"field": "t", "type": "nominal",
          "scale": {"domain": ["t=0","t=1.2 hr","t=2.4 hr","t=3.6 hr","t=4.8 hr"], "range": ["#000000","#ff0000","#00ee00","#0000ff","#9400d3"]},
          "legend": {"title": null, "orient": "none", "legendX": 23.5, "legendY": 30, "strokeColor": "black", "padding": 5, "fillColor": "white",
            "labelFont": "Liberation Serif", "labelFontSize": 21.5, "labelColor": "black", "labelOffset": 12, "rowPadding": 0,
            "symbolType": "stroke", "symbolSize": 441, "symbolStrokeWidth": 2, "symbolDash": [7, 7]}},
        "detail": {"field": "p", "type": "nominal"}
      }
    },
    {
      "data": {"name": "notes"},
      "mark": {"type": "text", "align": "left", "baseline": "alphabetic", "font": "Liberation Serif", "fontSize": 26, "color": "black"},
      "encoding": {
        "x": {"field": "nu", "type": "quantitative", "scale": {"type": "log", "domain": [1e9, 8.51e27], "nice": false}, "axis": null},
        "y": {"field": "F", "type": "quantitative", "scale": {"type": "log", "domain": [1e-14, 1e-7], "nice": false}, "axis": null},
        "text": {"field": "label"}
      }
    },
    {
      "data": {"name": "stamp"},
      "mark": {"type": "text", "align": "center", "baseline": "middle", "font": "Liberation Sans", "fontWeight": "bold", "fontSize": 23, "angle": -14, "color": "#ff0000"},
      "encoding": {
        "x": {"field": "nu", "type": "quantitative", "scale": {"type": "log", "domain": [1e9, 8.51e27], "nice": false}, "axis": null},
        "y": {"field": "F", "type": "quantitative", "scale": {"type": "log", "domain": [1e-14, 1e-7], "nice": false}, "axis": null},
        "text": {"field": "label"}
      }
    },
    {
      "data": {"name": "xt"},
      "transform": [{"filter": "datum.k === 'major'"}],
      "mark": {"type": "rule", "strokeWidth": 1.5, "color": "black", "opacity": 1},
      "encoding": {
        "x": {"field": "v", "type": "quantitative", "scale": {"type": "log", "domain": [1e9, 8.51e27], "nice": false}, "axis": null},
        "y": {"datum": 1e-14, "type": "quantitative", "scale": {"type": "log", "domain": [1e-14, 1e-7], "nice": false}, "axis": null},
        "y2": {"datum": 1.496e-14}
      }
    },
    {
      "data": {"name": "xt"},
      "transform": [{"filter": "datum.k === 'minor'"}],
      "mark": {"type": "rule", "strokeWidth": 1, "color": "black", "opacity": 1},
      "encoding": {
        "x": {"field": "v", "type": "quantitative", "scale": {"type": "log", "domain": [1e9, 8.51e27], "nice": false}, "axis": null},
        "y": {"datum": 1e-14, "type": "quantitative", "scale": {"type": "log", "domain": [1e-14, 1e-7], "nice": false}, "axis": null},
        "y2": {"datum": 1.201e-14}
      }
    },
    {
      "data": {"name": "xt"},
      "transform": [{"filter": "datum.k === 'major'"}],
      "mark": {"type": "rule", "strokeWidth": 1.5, "color": "black", "opacity": 1},
      "encoding": {
        "x": {"field": "v", "type": "quantitative", "scale": {"type": "log", "domain": [1e9, 8.51e27], "nice": false}, "axis": null},
        "y": {"datum": 1e-7, "type": "quantitative", "scale": {"type": "log", "domain": [1e-14, 1e-7], "nice": false}, "axis": null},
        "y2": {"datum": 6.683e-8}
      }
    },
    {
      "data": {"name": "xt"},
      "transform": [{"filter": "datum.k === 'minor'"}],
      "mark": {"type": "rule", "strokeWidth": 1, "color": "black", "opacity": 1},
      "encoding": {
        "x": {"field": "v", "type": "quantitative", "scale": {"type": "log", "domain": [1e9, 8.51e27], "nice": false}, "axis": null},
        "y": {"datum": 1e-7, "type": "quantitative", "scale": {"type": "log", "domain": [1e-14, 1e-7], "nice": false}, "axis": null},
        "y2": {"datum": 8.326e-8}
      }
    },
    {
      "data": {"name": "yt"},
      "transform": [{"filter": "datum.k === 'major'"}],
      "mark": {"type": "rule", "strokeWidth": 1.5, "color": "black", "opacity": 1},
      "encoding": {
        "y": {"field": "v", "type": "quantitative", "scale": {"type": "log", "domain": [1e-14, 1e-7], "nice": false}, "axis": null},
        "x": {"datum": 1e9, "type": "quantitative", "scale": {"type": "log", "domain": [1e9, 8.51e27], "nice": false}, "axis": null},
        "x2": {"datum": 2.242e9}
      }
    },
    {
      "data": {"name": "yt"},
      "transform": [{"filter": "datum.k === 'minor'"}],
      "mark": {"type": "rule", "strokeWidth": 1, "color": "black", "opacity": 1},
      "encoding": {
        "y": {"field": "v", "type": "quantitative", "scale": {"type": "log", "domain": [1e-14, 1e-7], "nice": false}, "axis": null},
        "x": {"datum": 1e9, "type": "quantitative", "scale": {"type": "log", "domain": [1e9, 8.51e27], "nice": false}, "axis": null},
        "x2": {"datum": 1.443e9}
      }
    },
    {
      "data": {"name": "yt"},
      "transform": [{"filter": "datum.k === 'major'"}],
      "mark": {"type": "rule", "strokeWidth": 1.5, "color": "black", "opacity": 1},
      "encoding": {
        "y": {"field": "v", "type": "quantitative", "scale": {"type": "log", "domain": [1e-14, 1e-7], "nice": false}, "axis": null},
        "x": {"datum": 8.51e27, "type": "quantitative", "scale": {"type": "log", "domain": [1e9, 8.51e27], "nice": false}, "axis": null},
        "x2": {"datum": 3.796e27}
      }
    },
    {
      "data": {"name": "yt"},
      "transform": [{"filter": "datum.k === 'minor'"}],
      "mark": {"type": "rule", "strokeWidth": 1, "color": "black", "opacity": 1},
      "encoding": {
        "y": {"field": "v", "type": "quantitative", "scale": {"type": "log", "domain": [1e-14, 1e-7], "nice": false}, "axis": null},
        "x": {"datum": 8.51e27, "type": "quantitative", "scale": {"type": "log", "domain": [1e9, 8.51e27], "nice": false}, "axis": null},
        "x2": {"datum": 5.897e27}
      }
    }
  ]
}
